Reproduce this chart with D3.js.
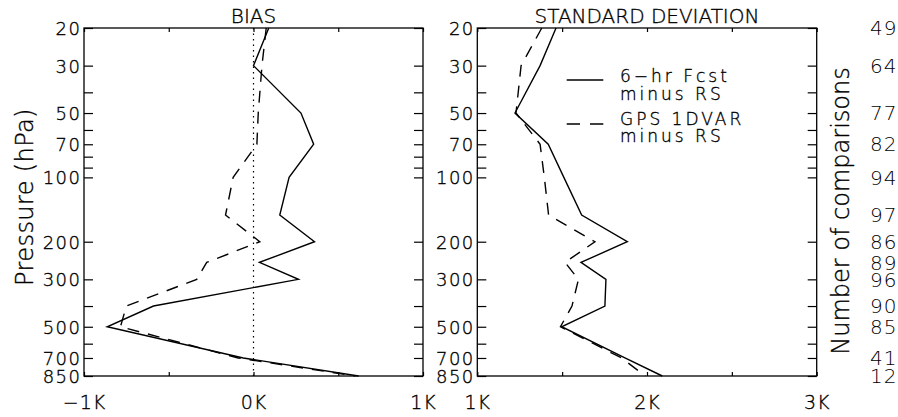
<!DOCTYPE html>
<html>
<head>
<meta charset="utf-8">
<script src="https://cdn.jsdelivr.net/npm/d3@7"></script>
<style>
  html, body { margin: 0; padding: 0; background: #fff; }
  svg { display: block; }
  text { font-family: "DejaVu Sans", "Liberation Sans", sans-serif; font-weight: 300; fill: #000; stroke: #000; stroke-width: 0.35px; }
</style>
</head>
<body>
<svg id="chart" width="898" height="417"></svg>
<script>
// ---- data ----
const levels = [20, 30, 50, 70, 100, 150, 200, 250, 300, 400, 500, 700, 850];
const biasFcst = [0.09, 0.0, 0.28, 0.355, 0.21, 0.155, 0.36, 0.035, 0.265, -0.59, -0.863, -0.06, 0.62];
const biasGPS  = [0.075, 0.05, 0.028, 0.02, -0.12, -0.165, 0.037, -0.276, -0.335, -0.75, -0.785, -0.09, 0.6];
const sdFcst   = [1.464, 1.37, 1.222, 1.418, 1.51, 1.615, 1.884, 1.611, 1.758, 1.752, 1.497, 1.87, 2.09];
const sdGPS    = [1.38, 1.258, 1.228, 1.37, 1.395, 1.42, 1.693, 1.517, 1.596, 1.558, 1.49, 1.85, 1.99];
const countLevels = [20, 30, 50, 70, 100, 150, 200, 250, 300, 400, 500, 700, 850];
const counts = [49, 64, 77, 82, 94, 97, 86, 89, 96, 90, 85, 41, 12];
const pressureTicks = [20, 30, 40, 50, 60, 70, 80, 90, 100, 200, 300, 400, 500, 600, 700, 850];
const pressureLabels = [20, 30, 50, 70, 100, 200, 300, 500, 700, 850];
const biasTicks = [-1, -0.5, 0, 0.5, 1];
const biasLabels = {"-1": "\u22121K", "0": "0K", "1": "1K"};
const sdTicks = [1, 1.5, 2, 2.5, 3];
const sdLabels = {"1": "1K", "2": "2K", "3": "3K"};
const legendNames = [["6\u2212hr Fcst", "minus RS"], ["GPS 1DVAR", "minus RS"]];

// ---- layout ----
const svg = d3.select("#chart");
const plotTop = 28, plotBottom = 376;
const panels = [
  {x0: 84, x1: 423, domain: [-1, 1], ticks: biasTicks, labels: biasLabels, title: "BIAS", a: biasFcst, b: biasGPS},
  {x0: 477.3, x1: 816.7, domain: [1, 3], ticks: sdTicks, labels: sdLabels, title: "STANDARD DEVIATION", a: sdFcst, b: sdGPS}
];
const y = d3.scaleLog().domain([20, 850]).range([plotTop, plotBottom]);

const LW = 1.4;

panels.forEach((p, i) => {
  const x = d3.scaleLinear().domain(p.domain).range([p.x0, p.x1]);
  const g = svg.append("g");

  const yl = g.append("g").attr("transform", `translate(${p.x0},0)`)
    .call(d3.axisLeft(y).tickValues(pressureTicks).tickSize(-9).tickPadding(2.5)
      .tickFormat(d => pressureLabels.includes(d) ? String(d) : ""));
  yl.select(".domain").remove();
  yl.selectAll("line").attr("stroke", "#000").attr("stroke-width", 1.2);
  yl.selectAll("text").attr("font-size", 18).attr("letter-spacing", 1.5)
    .attr("font-family", "DejaVu Sans").attr("dy", "0.36em");

  const yr = g.append("g").attr("transform", `translate(${p.x1},0)`)
    .call(d3.axisRight(y).tickValues(pressureTicks).tickSize(-9).tickFormat(""));
  yr.select(".domain").remove();
  yr.selectAll("line").attr("stroke", "#000").attr("stroke-width", 1.2);

  const xb = g.append("g").attr("transform", `translate(0,${plotBottom})`)
    .call(d3.axisBottom(x).tickValues(p.ticks).tickSize(-4).tickPadding(19.5)
      .tickFormat(d => p.labels[String(d)] || ""));
  xb.select(".domain").remove();
  xb.selectAll("line").attr("stroke", "#000").attr("stroke-width", 1.2);
  xb.selectAll("text").attr("font-size", 19).attr("letter-spacing", 1)
    .attr("font-family", "DejaVu Sans");

  const xt = g.append("g").attr("transform", `translate(0,${plotTop})`)
    .call(d3.axisTop(x).tickValues(p.ticks).tickSize(-4).tickFormat(""));
  xt.select(".domain").remove();
  xt.selectAll("line").attr("stroke", "#000").attr("stroke-width", 1.2);

  if (i === 0) {
    g.append("line").attr("x1", x(0)).attr("x2", x(0)).attr("y1", plotTop).attr("y2", plotBottom)
      .attr("stroke", "#000").attr("stroke-width", 1.2).attr("stroke-dasharray", "1.5,4");
  }

  const line = d3.line().x(d => x(d[0])).y(d => y(d[1]));
  g.append("path").datum(p.a.map((v, k) => [v, levels[k]]))
    .attr("d", line).attr("fill", "none").attr("stroke", "#000").attr("stroke-width", LW)
    .attr("stroke-linejoin", "miter");
  g.append("path").datum(p.b.map((v, k) => [v, levels[k]]))
    .attr("d", line).attr("fill", "none").attr("stroke", "#000").attr("stroke-width", LW)
    .attr("stroke-dasharray", "12,9");

  g.append("rect").attr("x", p.x0).attr("y", plotTop).attr("width", p.x1 - p.x0).attr("height", plotBottom - plotTop)
    .attr("fill", "none").attr("stroke", "#000").attr("stroke-width", 1.3);

  g.append("text").attr("x", (p.x0 + p.x1) / 2).attr("y", 23.3).attr("text-anchor", "middle")
    .attr("font-size", 20).text(p.title);
});

svg.append("text").attr("transform", "translate(33,197) rotate(-90)").attr("text-anchor", "middle")
  .attr("font-size", 24).attr("letter-spacing", 0.4).text("Pressure (hPa)");

svg.append("text").attr("transform", "translate(849,211) rotate(-90)").attr("text-anchor", "middle")
  .attr("font-size", 24).text("Number of comparisons");

svg.append("g").selectAll("text").data(counts).join("text")
  .attr("x", 870).attr("y", (d, k) => y(countLevels[k])).attr("dy", "0.36em")
  .attr("font-family", "Liberation Sans").attr("font-size", 20).attr("letter-spacing", 1)
  .style("stroke-width", "0px")
  .text(d => d);

const lg = svg.append("g");
lg.append("line").attr("x1", 566.7).attr("x2", 603.3).attr("y1", 80).attr("y2", 80)
  .attr("stroke", "#000").attr("stroke-width", LW);
lg.append("line").attr("x1", 566.7).attr("x2", 603.3).attr("y1", 124).attr("y2", 124)
  .attr("stroke", "#000").attr("stroke-width", LW).attr("stroke-dasharray", "13.3,10");
const legY = [[82, 100], [125, 142]];
legendNames.forEach((names, k) => {
  names.forEach((t, j) => {
    lg.append("text").attr("x", 620).attr("y", legY[k][j]).attr("font-size", 17)
      .attr("letter-spacing", 3).text(t);
  });
});
</script>
</body>
</html>
